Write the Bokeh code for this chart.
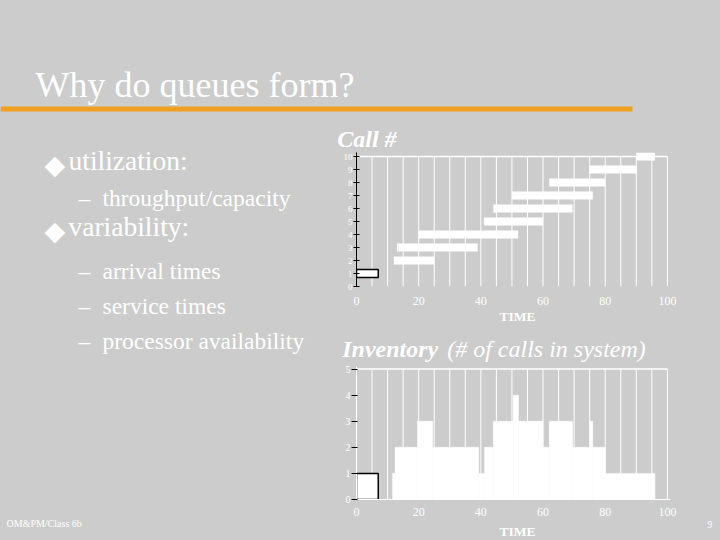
from bokeh.plotting import figure
from bokeh.models import Range1d, FixedTicker
from bokeh.layouts import column, row
from bokeh.core.properties import value
from bokeh.embed import file_html
from bokeh.resources import INLINE

# ---------------- data ----------------
call_ids = [1, 2, 3, 4, 5, 6, 7, 8, 9, 10]
call_start = [0, 12, 13, 20, 41, 44, 50, 62, 75, 90]
call_end = [7, 25, 39, 52, 60, 69.5, 76, 80, 90, 96]

inv_start = [0, 11.6, 12.4, 19.6, 24.5, 39.3, 41.2, 44, 50.4, 52.1, 60, 62, 69.5, 75, 76, 80]
inv_end = [7, 12.4, 19.6, 24.5, 39.3, 41.2, 44, 50.4, 52.1, 60, 62, 69.5, 75, 76, 80, 96]
inv_level = [1, 1, 2, 3, 2, 1, 2, 3, 4, 3, 2, 3, 2, 3, 2, 1]

time_ticks = [0, 20, 40, 60, 80, 100]
call_ticks = [0, 1, 2, 3, 4, 5, 6, 7, 8, 9, 10]
inv_ticks = [0, 1, 2, 3, 4, 5]
grid_times = [0, 5, 10, 15, 20, 25, 30, 35, 40, 45, 50, 55, 60, 65, 70, 75, 80, 85, 90, 95, 100]

title_text = "Why do queues form?"
bullets = ["utilization:", "variability:"]
sub_items = ["throughput/capacity", "arrival times", "service times", "processor availability"]
footer_text = "OM&PM/Class 6b"
page_no = "9"

BG = "#cccccc"
SERIF = "Liberation Serif"
WHITE = "#ffffff"
ORANGE = "#f0a020"


def strip(width, height, xr, yr):
    """Text-only panel whose data units equal page pixels (y grows downward)."""
    return figure(width=width, height=height, x_range=Range1d(*xr), y_range=Range1d(*yr),
                  x_axis_type=None, y_axis_type=None, min_border=0,
                  toolbar_location=None, output_backend="svg",
                  background_fill_color=BG, border_fill_color=BG, outline_line_color=None)


def put(p, xs, ys, texts, size, font=SERIF, style="normal", align="left"):
    px = float(size)
    p.text(x=xs, y=[y - 0.33 * px for y in ys], text=texts, text_font=value(font),
           text_font_size=value(f"{size}px"), text_font_style=style, text_color=WHITE,
           text_baseline="middle", text_align=align)


# ---------------- title strip ----------------
tf = strip(720, 120, (0, 720), (120, 0))
put(tf, [35], [96.7], [title_text], 36)
tf.quad(left=[0], right=[632], top=[106], bottom=[111], fill_color=ORANGE, line_color=None)

# ---------------- left text column ----------------
lf = strip(330, 420, (0, 330), (540, 120))
lf.text(x=[44, 44], y=[164, 230], text=["\u25c6", "\u25c6"], text_font=value("DejaVu Sans"),
        text_font_size=value("27px"), text_color=WHITE, text_baseline="middle")
put(lf, [68, 68], [169, 235], bullets, 27.5)
s_y = [205, 278, 313, 348]
put(lf, [78] * 4, s_y, ["\u2013"] * 4, 23.5)
put(lf, [102] * 4, s_y, sub_items, 23.5)
put(lf, [6], [526], [footer_text], 10)

# ---------------- right column strips ----------------
ca = strip(390, 32, (330, 720), (152, 120))
put(ca, [336.7], [146.5], ["Call #"], 24, style="bold italic")

mid = strip(390, 52, (330, 720), (362, 310))
put(mid, [517], [320], ["TIME"], 13.5, style="bold", align="center")
put(mid, [341.7], [356.5], ["Inventory"], 24, style="bold italic")
put(mid, [446.7], [356.5], ["(# of calls in system)"], 24, style="italic")

bs = strip(390, 22, (330, 720), (540, 518))
put(bs, [517], [535.7], ["TIME"], 13.5, style="bold", align="center")
put(bs, [711.7], [527], [page_no], 10, align="right")


def style_axes(p, yticks, ylabel_size, axis_line, standoff):
    p.xaxis.ticker = FixedTicker(ticks=time_ticks)
    p.xaxis.axis_line_color = axis_line
    p.xaxis.major_tick_line_color = None
    p.xaxis.minor_tick_line_color = None
    p.xaxis.major_label_text_color = WHITE
    p.xaxis.major_label_text_font = SERIF
    p.xaxis.major_label_text_font_size = "12px"
    p.xaxis.major_label_standoff = standoff
    p.yaxis.ticker = FixedTicker(ticks=yticks)
    p.yaxis.minor_tick_line_color = None
    p.yaxis.major_tick_line_color = "black"
    p.yaxis.major_label_text_color = WHITE
    p.yaxis.major_label_text_font = SERIF
    p.yaxis.major_label_text_font_size = ylabel_size
    p.yaxis.major_label_standoff = 1
    p.grid.visible = False


# ---------------- top chart: calls ----------------
top = figure(width=390, height=158, x_range=Range1d(0, 101), y_range=Range1d(0, 10.31),
             min_border_left=26, min_border_right=50, min_border_top=0, min_border_bottom=24,
             toolbar_location=None, output_backend="svg",
             background_fill_color=BG, border_fill_color=BG, outline_line_color=None)
style_axes(top, call_ticks, "9px", None, 4)
top.yaxis.axis_line_color = "black"
top.yaxis.major_tick_in = 3
top.yaxis.major_tick_out = 3

top.segment(x0=grid_times, y0=[0] * len(grid_times), x1=grid_times, y1=[10] * len(grid_times),
            line_color=WHITE, line_width=1)
top.segment(x0=[0], y0=[10], x1=[100], y1=[10], line_color=WHITE, line_width=1.5)
top.hbar(y=call_ids[1:], left=call_start[1:], right=call_end[1:], height=0.62,
         fill_color=WHITE, line_color=None)
top.hbar(y=call_ids[:1], left=call_start[:1], right=call_end[:1], height=0.62,
         fill_color=WHITE, line_color="black", line_width=1.5)

# ---------------- bottom chart: inventory ----------------
bot = figure(width=390, height=156, x_range=Range1d(0, 101), y_range=Range1d(0, 5.1),
             min_border_left=26, min_border_right=50, min_border_top=4, min_border_bottom=18,
             toolbar_location=None, output_backend="svg",
             background_fill_color=BG, border_fill_color=BG, outline_line_color=None)
style_axes(bot, inv_ticks, "10px", WHITE, 2)
bot.yaxis.axis_line_color = WHITE
bot.yaxis.major_tick_in = 1
bot.yaxis.major_tick_out = 5

bot.segment(x0=grid_times, y0=[0] * len(grid_times), x1=grid_times, y1=[5] * len(grid_times),
            line_color=WHITE, line_width=1)
bot.segment(x0=[0], y0=[5], x1=[100], y1=[5], line_color=WHITE, line_width=1.5)
bot.quad(left=inv_start[1:], right=inv_end[1:], bottom=[0] * (len(inv_level) - 1), top=inv_level[1:],
         fill_color=WHITE, line_color=WHITE, line_width=0.5)
bot.quad(left=inv_start[:1], right=inv_end[:1], bottom=[0], top=inv_level[:1],
         fill_color=WHITE, line_color="black", line_width=1.5)

gray = {"background-color": BG}
right_col = column(row(ca, styles=gray), top, row(mid, styles=gray), bot, row(bs, styles=gray),
                   spacing=0, styles=gray)
body = row(lf, right_col, spacing=0, styles=gray)
layout = column(tf, body, spacing=0, styles=gray)
open("out.html", "w").write(file_html(layout, INLINE))
